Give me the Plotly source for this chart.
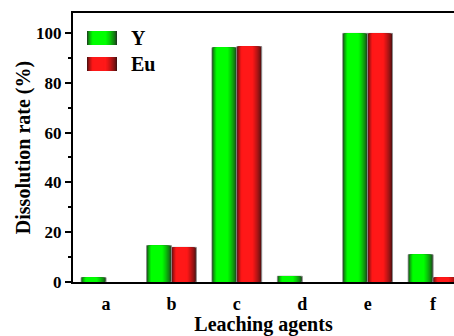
import plotly.graph_objects as go

# Leaching agents and dissolution rates (%) of Y and Eu
agents = ["a", "b", "c", "d", "e", "f"]
y_rate = [1.8, 14.6, 94.1, 2.3, 99.8, 11.0]
eu_rate = [0.0, 13.9, 94.5, 0.0, 99.8, 1.8]

FONT = "Liberation Serif"
BAR_W = 0.38          # width of one bar in category units
N_LAYERS = 12         # layers used to shade each bar like a cylinder

GREEN_EDGE, GREEN_MID = (30, 58, 30), (0, 255, 0)
RED_EDGE, RED_MID = (70, 16, 16), (255, 24, 24)


def mix(c0, c1, t):
    return "rgb({},{},{})".format(*[round(a + (b - a) * t) for a, b in zip(c0, c1)])


def shaded_bars(values, start, edge, mid):
    """Stack narrowing bars from a dark rim to a bright core."""
    traces = []
    rim = [1.0 if v > 0 else 0 for v in values]
    for k in range(N_LAYERS):
        t = k / (N_LAYERS - 1)
        left = 0.22 * t * BAR_W
        right = 0.44 * t * BAR_W
        width = BAR_W - left - right
        shade = min(1.0, (t / 0.8)) ** 0.7
        traces.append(go.Bar(
            x=agents, y=values,
            offset=start + left, width=width,
            marker=dict(color=mix(edge, mid, shade),
                        line=dict(color="#8c8c8c",
                                  width=rim if k == 0 else 0)),
            showlegend=False, hoverinfo="skip",
        ))
    return traces


fig = go.Figure()
for tr in shaded_bars(y_rate, -BAR_W, GREEN_EDGE, GREEN_MID):
    fig.add_trace(tr)
for tr in shaded_bars(eu_rate, 0.0, RED_EDGE, RED_MID):
    fig.add_trace(tr)

# Legend: shaded swatches plus bold labels in the upper-left corner
L, T, PW, PH = 73, 13, 381, 269
def px(x):
    return (x - L) / PW
def py(y):
    return (T + PH - y) / PH

shapes = []
annotations = []
for (label, edge, mid, top) in [("Y", GREEN_EDGE, GREEN_MID, 31), ("Eu", RED_EDGE, RED_MID, 57)]:
    x0, x1 = 87, 117
    w = x1 - x0
    for k in range(N_LAYERS):
        t = k / (N_LAYERS - 1)
        shade = min(1.0, (t / 0.8)) ** 0.7
        shapes.append(dict(
            type="rect", xref="paper", yref="paper", layer="above",
            x0=px(x0 + 0.22 * t * w), x1=px(x1 - 0.44 * t * w),
            y0=py(top + 14), y1=py(top),
            fillcolor=mix(edge, mid, shade), line=dict(width=0),
        ))
    annotations.append(dict(
        text=label, xref="paper", yref="paper", x=px(129), y=py(top + 7),
        xanchor="left", yanchor="middle", showarrow=False,
        font=dict(family=FONT, size=20, color="black", weight="bold"),
    ))

fig.update_layout(
    width=454, height=336,
    margin=dict(l=L, r=0, t=T, b=336 - T - PH),
    barmode="overlay",
    plot_bgcolor="white", paper_bgcolor="white",
    font=dict(family=FONT, color="black"),
    shapes=shapes, annotations=annotations,
    xaxis=dict(
        range=[-0.505, 5.32], automargin=False,
        showline=True, linecolor="black", linewidth=2, mirror=True,
        ticks="", showgrid=False, zeroline=False,
        ticklabelstandoff=4,
        tickfont=dict(family=FONT, size=18, color="black", weight="bold"),
        title=dict(text="Leaching agents", standoff=11,
                   font=dict(family=FONT, size=20, color="black", weight="bold")),
    ),
    yaxis=dict(
        range=[0, 108], automargin=False,
        tickvals=[0, 20, 40, 60, 80, 100],
        showline=True, linecolor="black", linewidth=2,
        ticks="outside", ticklen=6, tickwidth=1.5, tickcolor="black",
        minor=dict(dtick=10, tick0=0, ticks="outside", ticklen=3, tickwidth=1.5, tickcolor="black"),
        showgrid=False, zeroline=False,
        tickfont=dict(family=FONT, size=17, color="black", weight="bold"),
        title=dict(text="Dissolution rate (%)", standoff=0,
                   font=dict(family=FONT, size=20, color="black", weight="bold")),
    ),
)

fig.write_html("out.html")
